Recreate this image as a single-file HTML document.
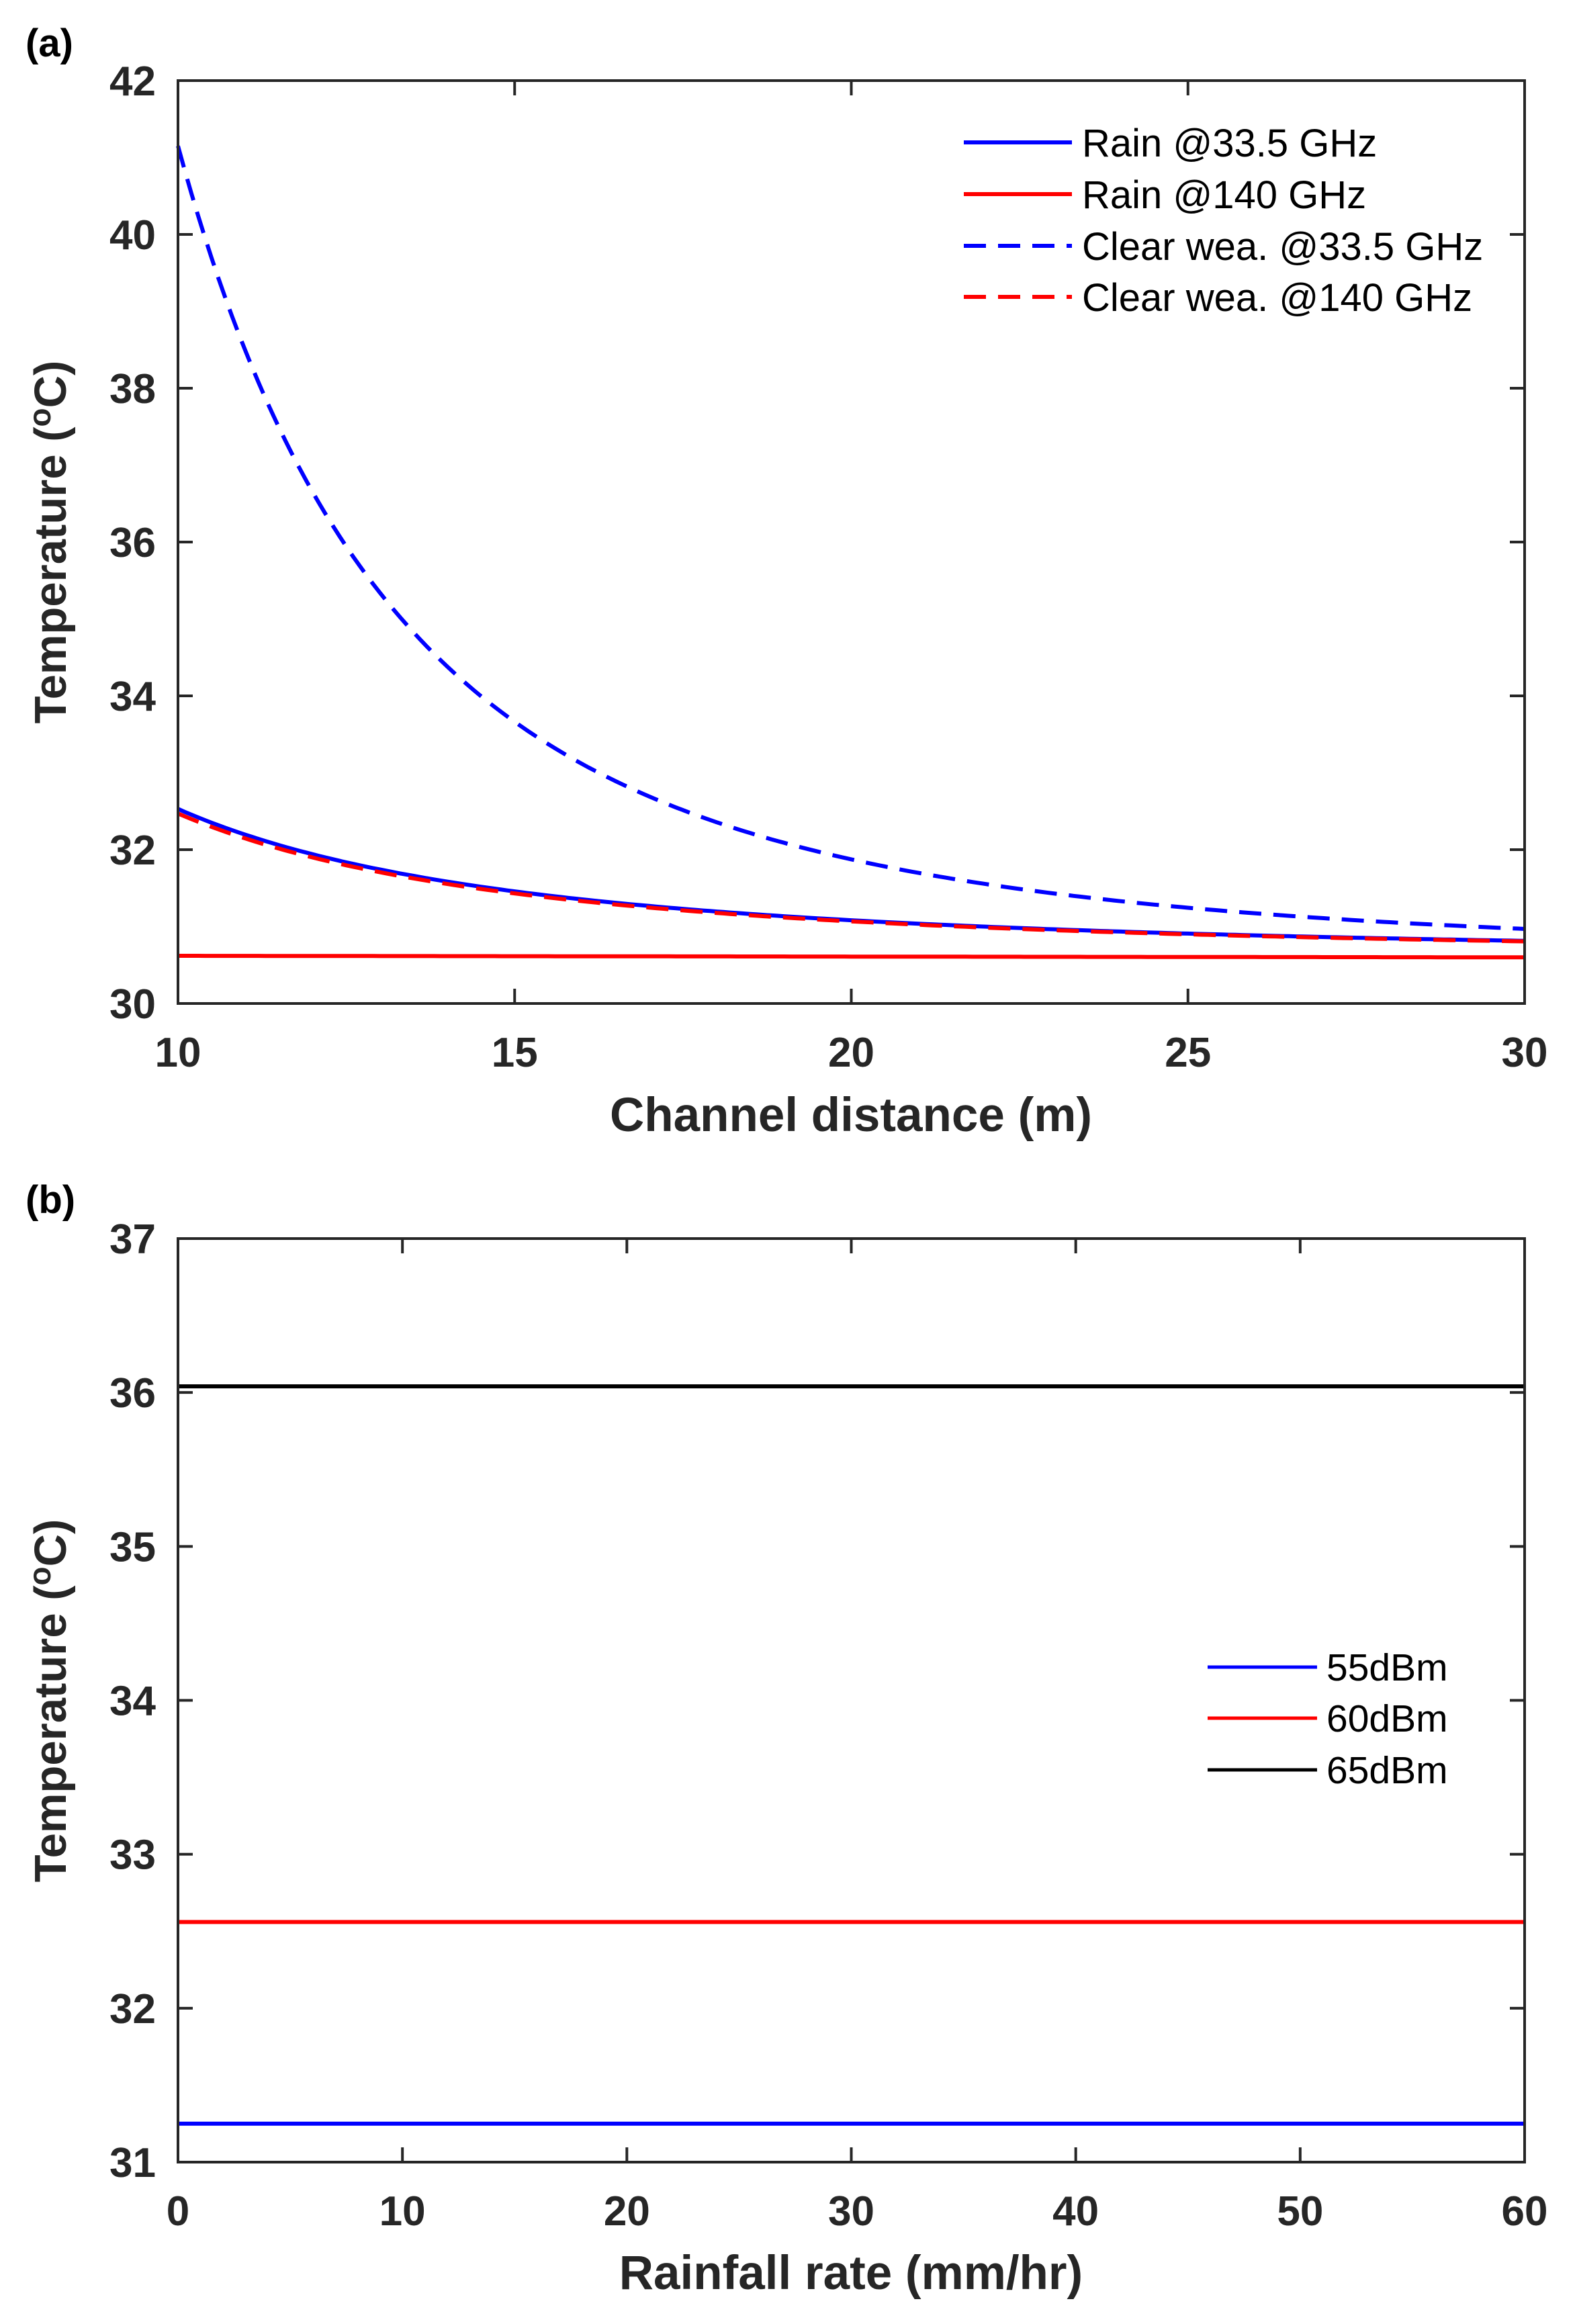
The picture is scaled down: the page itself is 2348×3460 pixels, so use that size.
<!DOCTYPE html>
<html><head><meta charset="utf-8"><style>
html,body{margin:0;padding:0;background:#fff;}
svg{display:block;}
text{font-family:"Liberation Sans",Arial,sans-serif;}
.tk{font-size:62px;font-weight:bold;fill:#262626;}
.tt{font-size:71px;font-weight:bold;fill:#262626;}
.ty{font-size:67px;font-weight:bold;fill:#262626;}
.lg{font-size:58px;fill:#000;}
.lg2{font-size:57px;fill:#000;}
</style></head><body>
<svg id="s" width="2348" height="3460" viewBox="0 0 2348 3460" xmlns="http://www.w3.org/2000/svg">
<rect width="2348" height="3460" fill="#fff"/>
<text x="38" y="84" style="font-size:58px;font-weight:bold;">(a)</text>
<text x="38" y="1806" style="font-size:58px;font-weight:bold;">(b)</text>
<g id="g1"></g>
<g id="g2"></g>
<text class="tt" x="1267" y="1684" text-anchor="middle">Channel distance (m)</text>
<text class="tt" x="1267" y="3408" text-anchor="middle">Rainfall rate (mm/hr)</text>
<text class="ty" transform="translate(98,807) rotate(-90)" text-anchor="middle">Temperature (<tspan dy="-23" style="font-size:46px">o</tspan><tspan dy="23">C)</tspan></text>
<text class="ty" transform="translate(98,2532) rotate(-90)" text-anchor="middle">Temperature (<tspan dy="-23" style="font-size:46px">o</tspan><tspan dy="23">C)</tspan></text>
<line x1="1435" y1="212" x2="1596" y2="212" stroke="#0000ff" stroke-width="6"/>
<line x1="1435" y1="289" x2="1596" y2="289" stroke="#ff0000" stroke-width="6"/>
<line x1="1435" y1="366" x2="1596" y2="366" stroke="#0000ff" stroke-width="6" stroke-dasharray="33,18"/>
<line x1="1435" y1="442" x2="1596" y2="442" stroke="#ff0000" stroke-width="6" stroke-dasharray="33,18"/>
<text class="lg" x="1611" y="233">Rain @33.5 GHz</text>
<text class="lg" x="1611" y="310">Rain @140 GHz</text>
<text class="lg" x="1611" y="387">Clear wea. @33.5 GHz</text>
<text class="lg" x="1611" y="463">Clear wea. @140 GHz</text>
<line x1="1798" y1="2482" x2="1961" y2="2482" stroke="#0000ff" stroke-width="5"/>
<line x1="1798" y1="2558" x2="1961" y2="2558" stroke="#ff0000" stroke-width="5"/>
<line x1="1798" y1="2635" x2="1961" y2="2635" stroke="#000" stroke-width="5"/>
<text class="lg2" x="1975" y="2502">55dBm</text>
<text class="lg2" x="1975" y="2578">60dBm</text>
<text class="lg2" x="1975" y="2655">65dBm</text>
</svg>
<script>
var NS="http://www.w3.org/2000/svg";
function el(p,t,a){var e=document.createElementNS(NS,t);for(var k in a)e.setAttribute(k,a[k]);p.appendChild(e);return e;}
function axes(g,L,R,T,B,xt,yt,xf,yf){
  el(g,"rect",{x:L,y:T,width:R-L,height:B-T,fill:"none",stroke:"#262626","stroke-width":4});
  xt.forEach(function(v){var x=xf(v);
    el(g,"line",{x1:x,y1:B,x2:x,y2:B-22,stroke:"#262626","stroke-width":4});
    el(g,"line",{x1:x,y1:T,x2:x,y2:T+22,stroke:"#262626","stroke-width":4});
    var t=el(g,"text",{x:x,y:B+94,"class":"tk","text-anchor":"middle"});t.textContent=v;});
  yt.forEach(function(v){var y=yf(v);
    el(g,"line",{x1:L,y1:y,x2:L+22,y2:y,stroke:"#262626","stroke-width":4});
    el(g,"line",{x1:R,y1:y,x2:R-22,y2:y,stroke:"#262626","stroke-width":4});
    var t=el(g,"text",{x:L-33,y:y+22,"class":"tk","text-anchor":"end"});t.textContent=v;});
}
var g1=document.getElementById("g1"),g2=document.getElementById("g2");
var L=265,R=2270,T=120,B=1494;
function xa(d){return L+(d-10)*(R-L)/20;} function ya(v){return T+(42-v)*(B-T)/12;}
function curve(f,col,dash){var p="";for(var i=0;i<=200;i++){var d=10+20*i/200;p+=(i?"L":"M")+xa(d).toFixed(1)+","+ya(f(d)).toFixed(1);}
  var a={d:p,fill:"none",stroke:col,"stroke-width":6};if(dash)a["stroke-dasharray"]="33,18";el(g1,"path",a);}
curve(function(d){return 30.62-0.02*(d-10)/20;},"#ff0000");
curve(function(d){return 30.6+1.93*Math.pow(10/d,2);},"#0000ff");
curve(function(d){return 30.6+1.87*Math.pow(10/d,2);},"#ff0000",1);
curve(function(d){return 30.6+10.55*Math.pow(10/d,3.05);},"#0000ff",1);
axes(g1,L,R,T,B,[10,15,20,25,30],[30,32,34,36,38,40,42],xa,ya);
var L2=265,R2=2270,T2=1844,B2=3219;
function xb(v){return L2+v*(R2-L2)/60;} function yb(v){return T2+(37-v)*(B2-T2)/6;}
[[36.04,"#000"],[32.56,"#ff0000"],[31.25,"#0000ff"]].forEach(function(a){
  el(g2,"line",{x1:L2,y1:yb(a[0]),x2:R2,y2:yb(a[0]),stroke:a[1],"stroke-width":6});});
axes(g2,L2,R2,T2,B2,[0,10,20,30,40,50,60],[31,32,33,34,35,36,37],xb,yb);
</script>
</body></html>
